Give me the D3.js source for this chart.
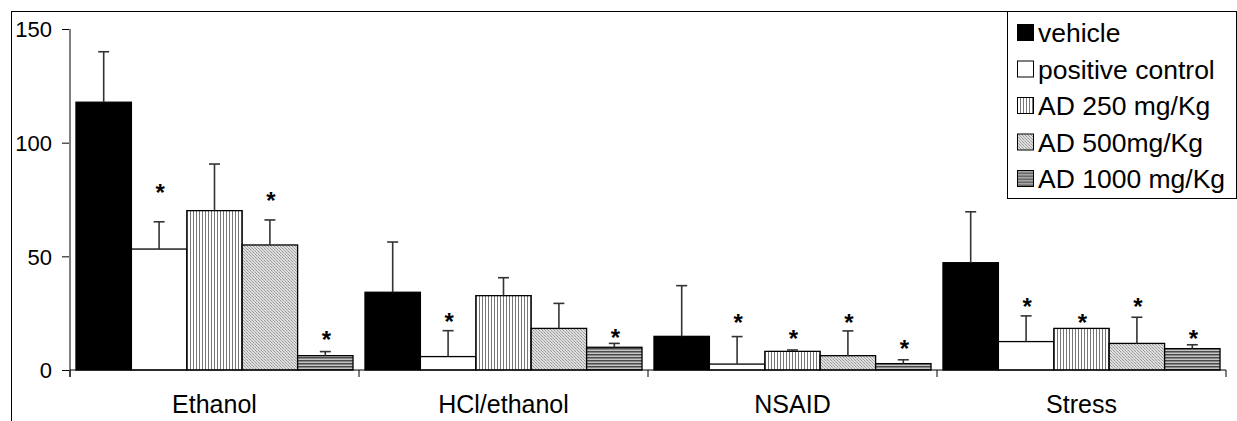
<!DOCTYPE html>
<html>
<head>
<meta charset="utf-8">
<script src="https://cdn.jsdelivr.net/npm/d3@7"></script>
<style>
  body { margin: 0; background: #fff; }
  svg { display: block; font-family: "Liberation Sans", Arial, sans-serif; }
</style>
</head>
<body>
<svg id="chart"></svg>
<script>
// categories and series
var categories = ["Ethanol", "HCl/ethanol", "NSAID", "Stress"];
var seriesNames = ["vehicle", "positive control", "AD 250 mg/Kg", "AD 500mg/Kg", "AD 1000 mg/Kg"];

// mean values per series (one per category)
var vehicle   = [117.8, 34.2, 14.8, 47.2];
var positive  = [53.2, 5.9, 2.6, 12.5];
var ad250     = [70.1, 32.7, 8.2, 18.3];
var ad500     = [55.0, 18.3, 6.3, 11.7];
var ad1000    = [6.3, 10.0, 2.8, 9.4];

// upper error (SD) per series
var vehicleErr  = [22.2, 22.1, 22.3, 22.4];
var positiveErr = [12.0, 11.4, 12.1, 11.3];
var ad250Err    = [20.5, 7.9, 0.6, 0];
var ad500Err    = [11.0, 11.0, 10.9, 11.5];
var ad1000Err   = [1.8, 1.7, 1.7, 1.7];

// level of the significance asterisk (null = none)
var vehicleStar  = [null, null, null, null];
var positiveStar = [80.2, 23.3, 23.0, 29.8];
var ad250Star    = [null, null, 15.8, 23.0];
var ad500Star    = [76.5, null, 23.0, 29.8];
var ad1000Star   = [15.4, 16.1, 11.4, 15.7];

var yTicks = [0, 50, 100, 150];

var width = 1237, height = 421;

var svg = d3.select("#chart").attr("width", width).attr("height", height);

var means = [vehicle, positive, ad250, ad500, ad1000];
var errs = [vehicleErr, positiveErr, ad250Err, ad500Err, ad1000Err];
var stars = [vehicleStar, positiveStar, ad250Star, ad500Star, ad1000Star];
var fills = ["#000", "#fff", "url(#vert)", "url(#dots)", "url(#horiz)"];

// patterns
var defs = svg.append("defs");
var pv = defs.append("pattern").attr("id", "vert").attr("patternUnits", "userSpaceOnUse")
  .attr("width", 3).attr("height", 10);
pv.append("rect").attr("width", 3).attr("height", 10).attr("fill", "#fff");
pv.append("rect").attr("x", 0).attr("width", 1).attr("height", 10).attr("fill", "#777");

var pd = defs.append("pattern").attr("id", "dots").attr("patternUnits", "userSpaceOnUse")
  .attr("width", 3).attr("height", 3);
pd.append("rect").attr("width", 3).attr("height", 3).attr("fill", "#dedede");
pd.append("rect").attr("x", 0).attr("y", 0).attr("width", 1).attr("height", 1).attr("fill", "#999");
pd.append("rect").attr("x", 1).attr("y", 1).attr("width", 1).attr("height", 1).attr("fill", "#b0b0b0");
pd.append("rect").attr("x", 2).attr("y", 2).attr("width", 1).attr("height", 1).attr("fill", "#999");

var ph = defs.append("pattern").attr("id", "horiz").attr("patternUnits", "userSpaceOnUse")
  .attr("width", 10).attr("height", 3);
ph.append("rect").attr("width", 10).attr("height", 3).attr("fill", "#c4c4c4");
ph.append("rect").attr("y", 0).attr("width", 10).attr("height", 1.5).attr("fill", "#4a4a4a");

// outer frame
svg.append("rect").attr("x", 11.5).attr("y", 11.5).attr("width", 1240).attr("height", 430)
  .attr("fill", "none").attr("stroke", "#000");

// scales
var x0 = d3.scaleBand().domain(categories).range([70, 1226]).padding(0);
var x1 = d3.scaleBand().domain(d3.range(seriesNames.length)).range([0, x0.bandwidth()])
  .paddingInner(0).paddingOuter(0.108);
var y = d3.scaleLinear().domain([0, 150]).range([370, 29]);

// y axis
var yAxis = svg.append("g").attr("transform", "translate(70,0)")
  .call(d3.axisLeft(y).tickValues(yTicks).tickSize(8).tickSizeOuter(0));
yAxis.select(".domain").remove();
yAxis.selectAll(".tick line").attr("stroke", "#000");
yAxis.selectAll(".tick text")
  .attr("x", -18).attr("dy", "0.36em")
  .attr("font-size", 22).attr("fill", "#000")
  .attr("font-family", "Liberation Sans, Arial, sans-serif");
svg.append("line").attr("x1", 70).attr("x2", 70).attr("y1", y(150)).attr("y2", 377)
  .attr("stroke", "#808080").attr("stroke-width", 2);

// bars
var groups = svg.append("g").selectAll("g").data(categories).join("g")
  .attr("transform", function(d) { return "translate(" + x0(d) + ",0)"; });

groups.each(function(cat, ci) {
  var g = d3.select(this);
  var rows = seriesNames.map(function(s, si) {
    return { si: si, v: means[si][ci], e: errs[si][ci], s: stars[si][ci] };
  });
  g.selectAll("rect.bar").data(rows).join("rect").attr("class", "bar")
    .attr("x", function(d) { return x1(d.si); })
    .attr("y", function(d) { return y(d.v); })
    .attr("width", x1.bandwidth())
    .attr("height", function(d) { return y(0) - y(d.v); })
    .attr("fill", function(d) { return fills[d.si]; })
    .attr("stroke", "#000").attr("stroke-width", 1.3);

  var eb = rows.filter(function(d) { return d.e > 0.3; });
  g.selectAll("line.stem").data(eb).join("line").attr("class", "stem")
    .attr("x1", function(d) { return x1(d.si) + x1.bandwidth() / 2; })
    .attr("x2", function(d) { return x1(d.si) + x1.bandwidth() / 2; })
    .attr("y1", function(d) { return y(d.v); })
    .attr("y2", function(d) { return y(d.v + d.e); })
    .attr("stroke", "#333").attr("stroke-width", 1.6);
  g.selectAll("line.cap").data(eb).join("line").attr("class", "cap")
    .attr("x1", function(d) { return x1(d.si) + x1.bandwidth() / 2 - 5.5; })
    .attr("x2", function(d) { return x1(d.si) + x1.bandwidth() / 2 + 5.5; })
    .attr("y1", function(d) { return y(d.v + d.e); })
    .attr("y2", function(d) { return y(d.v + d.e); })
    .attr("stroke", "#333").attr("stroke-width", 1.6);

  g.selectAll("text.star").data(rows.filter(function(d) { return d.s != null; }))
    .join("text").attr("class", "star")
    .attr("x", function(d) { return x1(d.si) + x1.bandwidth() / 2 + 1; })
    .attr("y", function(d) { return y(d.s) + 13; })
    .attr("text-anchor", "middle").attr("font-size", 24).attr("font-weight", "bold")
    .text("*");
});

// x axis baseline, category separators and labels
svg.append("line").attr("x1", 70).attr("x2", 1226).attr("y1", 370).attr("y2", 370)
  .attr("stroke", "#000");
var bounds = categories.map(function(c) { return x0(c); }).concat([x0.range()[1]]);
svg.append("g").selectAll("line").data(bounds).join("line")
  .attr("x1", function(d) { return d; }).attr("x2", function(d) { return d; })
  .attr("y1", 370).attr("y2", 377).attr("stroke", "#000");
svg.append("g").selectAll("text").data(categories).join("text")
  .attr("x", function(d) { return x0(d) + x0.bandwidth() / 2; })
  .attr("y", 413)
  .attr("text-anchor", "middle").attr("font-size", 25).text(function(d) { return d; });

// legend
var lg = svg.append("g");
lg.append("rect").attr("x", 1007.5).attr("y", 11.5).attr("width", 229).attr("height", 187)
  .attr("fill", "#fff").attr("stroke", "#000");
var li = lg.selectAll("g").data(seriesNames).join("g")
  .attr("transform", function(d, i) { return "translate(1017," + (32.5 + i * 36.5) + ")"; });
li.append("rect").attr("x", 0.5).attr("y", -8).attr("width", 16).attr("height", 16)
  .attr("fill", function(d, i) { return fills[i]; })
  .attr("stroke", "#000").attr("stroke-width", 1);
li.append("text").attr("x", 21).attr("y", 9.5)
  .attr("font-size", 26.5).text(function(d) { return d; });
</script>
</body>
</html>
